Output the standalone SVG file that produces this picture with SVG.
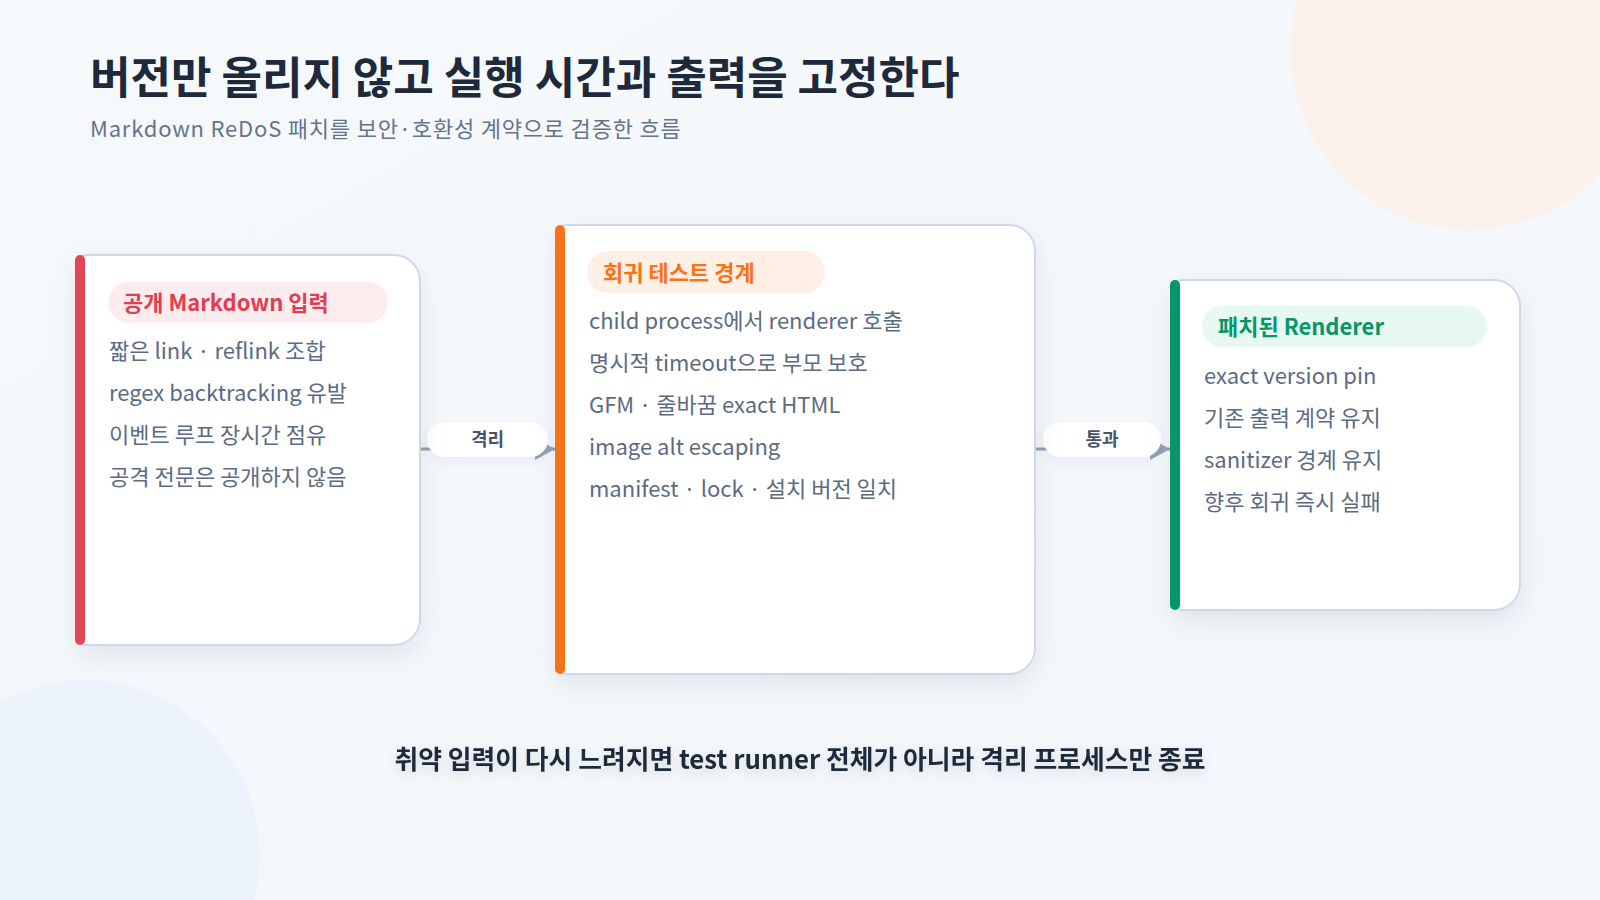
<svg xmlns="http://www.w3.org/2000/svg" width="1600" height="900" viewBox="0 0 1600 900">
  <defs>
    <linearGradient id="bg" x1="0" y1="0" x2="1" y2="1">
      <stop offset="0" stop-color="#f6f9fc"/>
      <stop offset="1" stop-color="#f3f6fa"/>
    </linearGradient>
    <filter id="cardShadow" x="-20%" y="-20%" width="140%" height="150%">
      <feDropShadow dx="0" dy="10" stdDeviation="12" flood-color="#1e293b" flood-opacity="0.08"/>
    </filter>
    <filter id="pillShadow" x="-30%" y="-50%" width="160%" height="220%">
      <feDropShadow dx="0" dy="4" stdDeviation="6" flood-color="#1e293b" flood-opacity="0.06"/>
    </filter>
    <filter id="textShadow" x="-10%" y="-80%" width="120%" height="260%">
      <feDropShadow dx="0" dy="4" stdDeviation="6" flood-color="#1e293b" flood-opacity="0.12"/>
    </filter>
    <marker id="arrow" viewBox="0 0 20 22" refX="20" refY="11" markerWidth="20" markerHeight="22" markerUnits="userSpaceOnUse" orient="auto">
      <path d="M0,0 L20,11 L0,22 Z" fill="#94a3b8"/>
    </marker>
    <style>
      text { font-family: 'Noto Sans CJK KR', 'Noto Sans', sans-serif; }
      .title { font-size: 44px; font-weight: 700; fill: #1e293b; letter-spacing: 0px; }
      .subtitle { font-size: 22px; fill: #64748b; letter-spacing: 0.8px; }
      .card { fill: #ffffff; stroke: #cfd8e6; stroke-width: 2; }
      .pilltext { font-size: 22px; font-weight: 700; }
      .body { font-size: 22px; fill: #5b6b82; }
      .edge { fill: none; stroke: #94a3b8; stroke-width: 3; }
      .edgepill { fill: #ffffff; }
      .edgelabel { font-size: 18px; font-weight: 700; fill: #475569; text-anchor: middle; }
      .footer { font-size: 25.8px; font-weight: 700; fill: #1e293b; text-anchor: middle; }
    </style>
  </defs>

  <rect x="0" y="0" width="1600" height="900" fill="url(#bg)"/>
  <circle cx="1470" cy="50" r="180" fill="#fdf1eb"/>
  <circle cx="85" cy="855" r="175" fill="#edf3fd"/>

  <text class="title" x="90" y="94">버전만 올리지 않고 실행 시간과 출력을 고정한다</text>
  <text class="subtitle" x="90" y="137">Markdown ReDoS 패치를 보안·호환성 계약으로 검증한 흐름</text>

  <g id="connectors">
    <path class="edge" d="M420,449 H555" marker-end="url(#arrow)"/>
    <path class="edge" d="M1035,449 H1170" marker-end="url(#arrow)"/>
    <g id="label-isolate">
      <rect class="edgepill" x="427" y="422" width="121" height="35" rx="17.5" filter="url(#pillShadow)"/>
      <text class="edgelabel" x="487.5" y="446">격리</text>
    </g>
    <g id="label-pass">
      <rect class="edgepill" x="1043" y="422" width="118" height="35" rx="17.5" filter="url(#pillShadow)"/>
      <text class="edgelabel" x="1102" y="446">통과</text>
    </g>
  </g>

  <g id="node-input">
    <path class="card" filter="url(#cardShadow)" d="M86,255 H394 A26,26 0 0 1 420,281 V619 A26,26 0 0 1 394,645 H86 A8,8 0 0 1 78,637 V263 A8,8 0 0 1 86,255 Z"/>
    <rect x="75" y="255" width="10" height="390" rx="5" fill="#e04656"/>
    <rect x="108" y="282" width="280" height="41" rx="20.5" fill="#fdecee"/>
    <text class="pilltext" x="123" y="311" fill="#e03e52">공개 Markdown 입력</text>
    <text class="body" x="109" y="359">짧은 link · reflink 조합</text>
    <text class="body" x="109" y="401">regex backtracking 유발</text>
    <text class="body" x="109" y="443">이벤트 루프 장시간 점유</text>
    <text class="body" x="109" y="485">공격 전문은 공개하지 않음</text>
  </g>

  <g id="node-regression">
    <path class="card" filter="url(#cardShadow)" d="M566,225 H1009 A26,26 0 0 1 1035,251 V648 A26,26 0 0 1 1009,674 H566 A8,8 0 0 1 558,666 V233 A8,8 0 0 1 566,225 Z"/>
    <rect x="555" y="225" width="10" height="449" rx="5" fill="#f97316"/>
    <rect x="587" y="251" width="238" height="42" rx="21" fill="#ffefe4"/>
    <text class="pilltext" x="603" y="281" fill="#f97316">회귀 테스트 경계</text>
    <text class="body" x="589" y="329">child process에서 renderer 호출</text>
    <text class="body" x="589" y="371">명시적 timeout으로 부모 보호</text>
    <text class="body" x="589" y="413">GFM · 줄바꿈 exact HTML</text>
    <text class="body" x="589" y="455">image alt escaping</text>
    <text class="body" x="589" y="497">manifest · lock · 설치 버전 일치</text>
  </g>

  <g id="node-renderer">
    <path class="card" filter="url(#cardShadow)" d="M1181,280 H1494 A26,26 0 0 1 1520,306 V584 A26,26 0 0 1 1494,610 H1181 A8,8 0 0 1 1173,602 V288 A8,8 0 0 1 1181,280 Z"/>
    <rect x="1170" y="280" width="10" height="330" rx="5" fill="#059669"/>
    <rect x="1202" y="306" width="285" height="41" rx="20.5" fill="#e6f8f0"/>
    <text class="pilltext" x="1218" y="335" fill="#059669">패치된 Renderer</text>
    <text class="body" x="1204" y="384">exact version pin</text>
    <text class="body" x="1204" y="426">기존 출력 계약 유지</text>
    <text class="body" x="1204" y="468">sanitizer 경계 유지</text>
    <text class="body" x="1204" y="510">향후 회귀 즉시 실패</text>
  </g>

  <text class="footer" x="800" y="769" filter="url(#textShadow)">취약 입력이 다시 느려지면 test runner 전체가 아니라 격리 프로세스만 종료</text>
</svg>
